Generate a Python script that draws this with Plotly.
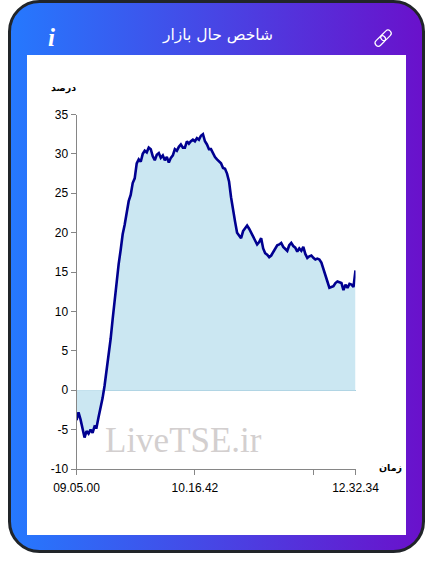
import base64
import plotly.graph_objects as go

W, H = 433, 574
values = [
    -3.8, -2.8, -3.7, -4.9, -6.0, -5.2, -5.5, -5.0, -5.4, -4.6,
    -4.7, -3.4, -2.3, -1.0, 0.6, 2.4, 4.2, 6.5, 9.0, 11.5,
    14.0, 16.0, 17.8, 19.8, 21.0, 22.6, 24.0, 24.8, 26.3, 26.9,
    28.8, 29.3, 29.0, 30.0, 30.4, 30.2, 30.8, 30.6, 29.7, 29.2,
    29.9, 30.1, 29.5, 29.8, 29.2, 29.6, 28.9, 29.5, 29.8, 30.6,
    30.4, 30.9, 31.2, 30.8, 30.8, 31.6, 31.3, 31.6, 31.8, 31.6,
    32.0, 31.8, 32.3, 32.5, 31.6, 31.2, 30.6, 30.6, 30.0, 29.6,
    29.3, 29.0, 28.8, 28.2, 28.1, 27.5, 26.5, 24.5, 22.6, 21.4,
    20.0, 19.6, 19.3, 20.2, 20.6, 20.9, 20.5, 20.0, 19.5, 19.0,
    18.5, 18.8, 19.3, 18.0, 17.4, 17.2, 16.9, 17.1, 17.5, 18.0,
    18.4, 18.5, 18.7, 18.2, 18.0, 17.7, 18.4, 18.7, 18.3, 18.1,
    17.6, 18.0, 17.7, 18.2, 17.3, 16.8, 17.0, 17.1, 16.8, 16.6,
    16.7, 16.6, 16.2, 15.3, 14.6, 13.8, 13.0, 13.1, 13.2, 13.6,
    13.8, 13.7, 13.6, 12.7, 13.4, 13.0, 13.5, 13.4, 13.1, 15.2,
]
sample_index = list(range(len(values)))
x_tick_index = [0, 59, 118, 139]
x_tick_labels = ["09.05.00", "10.16.42", "", "12.32.34"]
y_ticks = [-10, -5, 0, 5, 10, 15, 20, 25, 30, 35]
y_tick_labels = ["-10", "-5", "0", "5", "10", "15", "20", "25", "30", "35"]

svg = f'''<svg xmlns="http://www.w3.org/2000/svg" width="{W}" height="{H}" viewBox="0 0 {W} {H}">
<defs><linearGradient id="g" x1="0" y1="0" x2="1" y2="0">
<stop offset="0" stop-color="#2579fe"/><stop offset="1" stop-color="#6a11cb"/></linearGradient></defs>
<rect x="9.5" y="1.5" width="414" height="550" rx="30" ry="30" fill="url(#g)" stroke="#212529" stroke-width="3"/>
<rect x="27" y="55" width="379" height="480" fill="#ffffff"/>
<g fill="none" stroke="#ffffff" stroke-width="1.2" stroke-linecap="round" transform="rotate(-45 383 38)">
<rect x="373" y="35" width="12" height="6.4" rx="3.2"/>
<rect x="381" y="35" width="12" height="6.4" rx="3.2"/>
</g></svg>'''
uri = "data:image/svg+xml;base64," + base64.b64encode(svg.encode()).decode()


def px(x):
    return x / W


def py(y):
    return 1 - y / H


fig = go.Figure(
    go.Scatter(
        x=sample_index,
        y=values,
        mode="lines",
        fill="tozeroy",
        fillcolor="#cbe7f2",
        line=dict(color="#000090", width=2.6),
        hoverinfo="skip",
    )
)

base = "Liberation Sans, Arial, sans-serif"
ar = "DejaVu Sans, sans-serif"
notes = [
    dict(text="LiveTSE.ir", x=183, y=440, font=dict(family="Liberation Serif", size=35, color="#d3cfcf")),
    dict(text="شاخص حال بازار", x=217, y=35, font=dict(family=ar, size=15.5, color="#ffffff")),
    dict(text="<b><i>i</i></b>", x=51, y=37, font=dict(family="Liberation Serif", size=25, color="#ffffff")),
    dict(text="<b>درصد</b>", x=63, y=88, font=dict(family=ar, size=9.5, color="#000000")),
    dict(text="<b>زمان</b>", x=390, y=468, font=dict(family=ar, size=9.5, color="#000000")),
]
annotations = [
    dict(
        text=n["text"], x=px(n["x"]), y=py(n["y"]), xref="paper", yref="paper",
        xanchor="center", yanchor="middle", showarrow=False, font=n["font"],
    )
    for n in notes
]

fig.update_layout(
    width=W,
    height=H,
    margin=dict(l=0, r=0, t=0, b=0, pad=0, autoexpand=False),
    paper_bgcolor="#ffffff",
    plot_bgcolor="rgba(0,0,0,0)",
    showlegend=False,
    font=dict(family=base, size=12, color="#000000"),
    images=[dict(source=uri, xref="paper", yref="paper", x=0, y=1, sizex=1, sizey=1,
                 xanchor="left", yanchor="top", sizing="stretch", layer="below")],
    annotations=annotations,
    xaxis=dict(
        domain=[px(76.5), px(355.5)],
        range=[0, 139],
        tickmode="array",
        tickvals=x_tick_index,
        ticktext=x_tick_labels,
        ticks="outside",
        ticklen=5,
        tickcolor="#868686",
        ticklabelstandoff=3,
        showline=True,
        linecolor="#868686",
        linewidth=1,
        showgrid=False,
        zeroline=False,
        tickangle=0,
    ),
    yaxis=dict(
        domain=[py(469), py(114.5)],
        range=[-10, 35],
        tickmode="array",
        tickvals=y_ticks,
        ticktext=y_tick_labels,
        ticks="outside",
        ticklen=5,
        tickcolor="#868686",
        showline=True,
        linecolor="#868686",
        linewidth=1,
        showgrid=False,
        zeroline=True,
        zerolinecolor="#a8cfdf",
        zerolinewidth=1,
    ),
)

fig.write_html(
    "out.html",
    config={"displayModeBar": False},
    post_script="document.body.style.margin='0';document.body.style.overflow='hidden';",
)
